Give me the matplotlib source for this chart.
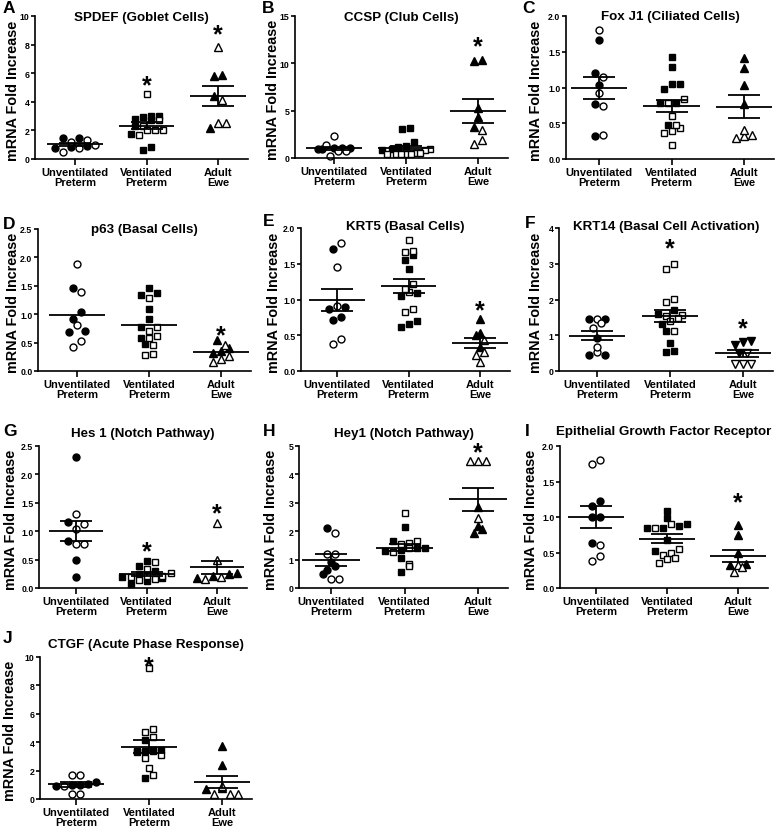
import matplotlib
matplotlib.use("Agg")
import matplotlib.pyplot as plt
import numpy as np
from matplotlib.ticker import FormatStrFormatter

plt.rcParams.update({
    "font.family": ["Liberation Sans", "DejaVu Sans"],
    "font.weight": "bold",
    "axes.labelweight": "bold",
    "axes.linewidth": 1.2,
})

# ── data ────────────────────────────────────────────────────────────────────
GROUPS = ["Unventilated\nPreterm", "Ventilated\nPreterm", "Adult\nEwe"]

SPDEF_UV_FILLED = [1.45, 1.5, 0.9, 0.85, 0.8]
SPDEF_UV_OPEN = [1.3, 1.2, 0.8, 0.5, 0.95]
SPDEF_V_FILLED = [3.0, 3.0, 2.95, 2.8, 2.75, 2.3, 1.75, 0.85, 0.65]
SPDEF_V_OPEN = [4.55, 2.75, 2.3, 2.05, 2.0, 2.05, 1.65]
SPDEF_A_FILLED = [5.8, 5.9, 4.4, 2.2]
SPDEF_A_OPEN = [7.8, 4.15, 2.5, 2.5]

CCSP_UV_FILLED = [1.05, 1.0, 0.9, 1.1, 1.05]
CCSP_UV_OPEN = [2.3, 1.35, 0.75, 0.7, 0.25]
CCSP_V_FILLED = [3.05, 3.15, 1.7, 1.25, 1.2, 0.9, 0.8]
CCSP_V_OPEN = [0.9, 0.8, 0.5, 0.45, 0.4, 0.4, 0.45, 0.5, 0.4]
CCSP_A_FILLED = [10.25, 10.4, 5.3, 4.3, 3.26]
CCSP_A_OPEN = [3.0, 1.93, 1.44]

FOXJ1_UV_FILLED = [1.67, 1.2, 1.04, 0.77, 0.32]
FOXJ1_UV_OPEN = [1.8, 1.15, 0.93, 0.74, 0.33]
FOXJ1_V_FILLED = [1.42, 1.28, 1.05, 0.98, 1.05, 0.78, 0.78, 0.48]
FOXJ1_V_OPEN = [0.78, 0.84, 0.6, 0.39, 0.36, 0.44, 0.47, 0.19]
FOXJ1_A_FILLED = [1.41, 1.27, 1.03, 0.77]
FOXJ1_A_OPEN = [0.34, 0.29, 0.32, 0.4]

P63_UV_FILLED = [1.47, 1.04, 0.92, 0.71, 0.69]
P63_UV_OPEN = [1.88, 1.39, 0.81, 0.53, 0.42]
P63_V_FILLED = [1.47, 1.34, 1.38, 1.1, 0.92, 0.78, 0.58, 0.47]
P63_V_OPEN = [1.28, 0.77, 0.71, 0.62, 0.58, 0.45, 0.29, 0.3]
P63_A_FILLED = [0.55, 0.41, 0.36, 0.31]
P63_A_OPEN = [0.46, 0.27, 0.21, 0.16]

KRT5_UV_FILLED = [1.71, 0.9, 0.87, 0.76, 0.71]
KRT5_UV_OPEN = [1.79, 1.46, 0.91, 0.45, 0.38]
KRT5_V_FILLED = [1.62, 1.55, 1.43, 1.05, 1.09, 0.7, 0.62, 0.66]
KRT5_V_OPEN = [1.83, 1.66, 1.68, 1.22, 1.1, 1.15, 0.87, 0.83]
KRT5_A_FILLED = [0.73, 0.53, 0.5, 0.33]
KRT5_A_OPEN = [0.43, 0.27, 0.23, 0.12]

KRT14_UV_FILLED = [1.45, 1.45, 0.93, 0.46, 0.46]
KRT14_UV_OPEN = [1.46, 1.33, 1.2, 0.52, 0.66]
KRT14_V_FILLED = [1.72, 1.6, 1.32, 1.12, 0.78, 0.57, 0.53]
KRT14_V_OPEN = [2.98, 2.84, 2.02, 1.92, 1.58, 1.55, 1.48, 1.4, 1.12]
KRT14_A_FILLED = [0.8, 0.85, 0.72, 0.5]
KRT14_A_OPEN = [0.5, 0.2, 0.2, 0.2]

HES1_UV_FILLED = [2.31, 1.16, 0.83, 0.49, 0.2]
HES1_UV_OPEN = [1.31, 1.13, 1.04, 0.78, 0.77]
HES1_V_FILLED = [0.47, 0.38, 0.3, 0.25, 0.2, 0.12, 0.07, 0.18]
HES1_V_OPEN = [0.46, 0.34, 0.27, 0.22, 0.2, 0.14, 0.15, 0.22]
HES1_A_FILLED = [0.26, 0.21, 0.17, 0.25]
HES1_A_OPEN = [1.15, 0.5, 0.16, 0.2]

HEY1_UV_FILLED = [2.1, 0.92, 0.78, 0.5, 0.65]
HEY1_UV_OPEN = [1.93, 1.2, 1.2, 0.3, 0.31]
HEY1_V_FILLED = [2.14, 1.65, 1.42, 1.33, 1.3, 1.05, 0.55, 1.42]
HEY1_V_OPEN = [2.63, 1.65, 1.58, 1.55, 1.4, 1.28, 0.85, 0.78]
HEY1_A_FILLED = [2.85, 2.2, 1.95, 2.08]
HEY1_A_OPEN = [4.47, 4.47, 4.47, 2.45]

EGFR_UV_FILLED = [1.23, 1.16, 1.0, 1.0, 0.64]
EGFR_UV_OPEN = [1.75, 1.8, 0.6, 0.45, 0.38]
EGFR_V_FILLED = [1.08, 0.98, 0.87, 0.84, 0.84, 0.9, 0.68, 0.52]
EGFR_V_OPEN = [0.9, 0.84, 0.55, 0.5, 0.42, 0.46, 0.41, 0.35]
EGFR_A_FILLED = [0.89, 0.74, 0.49, 0.34, 0.32]
EGFR_A_OPEN = [0.33, 0.22, 0.29]

CTGF_UV_FILLED = [1.0, 0.95, 1.0, 1.05, 1.2]
CTGF_UV_OPEN = [1.7, 1.7, 0.93, 0.35, 0.35]
CTGF_V_FILLED = [4.15, 3.45, 3.4, 3.35, 3.3, 3.45, 3.4, 1.5]
CTGF_V_OPEN = [9.2, 4.95, 4.75, 4.4, 3.1, 2.9, 2.15, 1.7]
CTGF_A_FILLED = [3.7, 2.4, 0.75, 0.7]
CTGF_A_OPEN = [0.35, 0.35, 0.35, 0.9]

# significance marks: (group index, y of star centre)
SPDEF_STARS = [(1, 5.6), (2, 9.16)]
CCSP_STARS = [(2, 12.4)]
FOXJ1_STARS = []
P63_STARS = [(2, 0.74)]
KRT5_STARS = [(2, 0.93)]
KRT14_STARS = [(1, 3.6), (2, 1.38)]
HES1_STARS = [(1, 0.75), (2, 1.43)]
HEY1_STARS = [(2, 5.0)]
EGFR_STARS = [(2, 1.29)]
CTGF_STARS = [(1, 9.77)]

# ── panel layout (pixels in a 780x829 canvas) ───────────────────────────────
W, H = 780, 829
# letter, title, groups, stars, ymax, ystep, show_sem, adult marker,
# axes (left, top, bottom), category x (first, last), title centre y,
# letter pos, y-label centre x
PANELS = [
    ("A", "SPDEF (Goblet Cells)",
     [(SPDEF_UV_FILLED, SPDEF_UV_OPEN), (SPDEF_V_FILLED, SPDEF_V_OPEN), (SPDEF_A_FILLED, SPDEF_A_OPEN)],
     SPDEF_STARS, 10, 2, True, "^", (35, 17, 160), (75, 218), 18, (3, 1), 13),
    ("B", "CCSP (Club Cells)",
     [(CCSP_UV_FILLED, CCSP_UV_OPEN), (CCSP_V_FILLED, CCSP_V_OPEN), (CCSP_A_FILLED, CCSP_A_OPEN)],
     CCSP_STARS, 15, 5, True, "^", (295, 17, 159), (334, 478), 18, (262, 1), 273),
    ("C", "Fox J1 (Ciliated Cells)",
     [(FOXJ1_UV_FILLED, FOXJ1_UV_OPEN), (FOXJ1_V_FILLED, FOXJ1_V_OPEN), (FOXJ1_A_FILLED, FOXJ1_A_OPEN)],
     FOXJ1_STARS, 2.0, 0.5, True, "^", (566, 17, 160), (599, 744), 17, (522, 1), 536),
    ("D", "p63 (Basal Cells)",
     [(P63_UV_FILLED, P63_UV_OPEN), (P63_V_FILLED, P63_V_OPEN), (P63_A_FILLED, P63_A_OPEN)],
     P63_STARS, 2.5, 0.5, False, "^", (38, 230, 372), (77, 221), 230, (3, 217), 13),
    ("E", "KRT5 (Basal Cells)",
     [(KRT5_UV_FILLED, KRT5_UV_OPEN), (KRT5_V_FILLED, KRT5_V_OPEN), (KRT5_A_FILLED, KRT5_A_OPEN)],
     KRT5_STARS, 2.0, 0.5, True, "^", (301, 229, 372), (337, 480), 227, (263, 214), 274),
    ("F", "KRT14 (Basal Cell Activation)",
     [(KRT14_UV_FILLED, KRT14_UV_OPEN), (KRT14_V_FILLED, KRT14_V_OPEN), (KRT14_A_FILLED, KRT14_A_OPEN)],
     KRT14_STARS, 4, 1, True, "v", (559, 229, 372), (597, 743), 227, (525, 216), 536),
    ("G", "Hes 1 (Notch Pathway)",
     [(HES1_UV_FILLED, HES1_UV_OPEN), (HES1_V_FILLED, HES1_V_OPEN), (HES1_A_FILLED, HES1_A_OPEN)],
     HES1_STARS, 2.5, 0.5, True, "^", (39, 447, 589), (76, 217), 434, (3, 424), 11),
    ("H", "Hey1 (Notch Pathway)",
     [(HEY1_UV_FILLED, HEY1_UV_OPEN), (HEY1_V_FILLED, HEY1_V_OPEN), (HEY1_A_FILLED, HEY1_A_OPEN)],
     HEY1_STARS, 5, 1, True, "^", (299, 447, 589), (331, 478), 434, (263, 424), 271),
    ("I", "Epithelial Growth Factor Receptor",
     [(EGFR_UV_FILLED, EGFR_UV_OPEN), (EGFR_V_FILLED, EGFR_V_OPEN), (EGFR_A_FILLED, EGFR_A_OPEN)],
     EGFR_STARS, 2.0, 0.5, True, "^", (560, 447, 589), (596, 738), 432, (525, 424), 531),
    ("J", "CTGF (Acute Phase Response)",
     [(CTGF_UV_FILLED, CTGF_UV_OPEN), (CTGF_V_FILLED, CTGF_V_OPEN), (CTGF_A_FILLED, CTGF_A_OPEN)],
     CTGF_STARS, 10, 2, True, "^", (40, 658, 800), (76, 222), 645, (3, 631), 10),
]


def row_offsets(y_px, is_filled, row_h, spacing, max_span):
    """Prism-style scatter: group points into rows bottom-up, centre each row."""
    n = len(y_px)
    order = np.argsort(y_px, kind="stable")
    rows, start = [], None
    for i in order:
        if start is None or y_px[i] - start > row_h:
            rows.append([])
            start = y_px[i]
        rows[-1].append(i)
    offs = np.zeros(n)
    for members in rows:
        # mix filled and open symbols inside a row
        fi = [i for i in members if is_filled[i]]
        oi = [i for i in members if not is_filled[i]]
        mixed = []
        for k in range(max(len(fi), len(oi))):
            if k < len(fi):
                mixed.append(fi[k])
            if k < len(oi):
                mixed.append(oi[k])
        m = len(mixed)
        step = spacing if m < 2 else min(spacing, max_span / (m - 1))
        for k, i in enumerate(mixed):
            offs[i] = (k - (m - 1) / 2) * step
    return offs


fig = plt.figure(figsize=(W / 100, H / 100), dpi=100)

for (letter, title, groups, stars, ymax, ystep, show_sem, adult_marker,
     (left, top, bottom), (cat0, cat2), title_y, (lx, ly), ylab_x) in PANELS:
    px_per_unit = (cat2 - cat0) / 2.0
    right = cat2 + 30
    ax = fig.add_axes([left / W, 1 - bottom / H, (right - left) / W, (bottom - top) / H])
    ax.set_xlim(-(cat0 - left) / px_per_unit, 2 + 30 / px_per_unit)
    ax.set_ylim(0, ymax)
    px_per_y = (bottom - top) / ymax

    markers = ["o", "s", adult_marker]
    sizes = [5.0, 4.6, 5.2]
    for gi, (filled, opened) in enumerate(groups):
        vals = np.array(list(filled) + list(opened), dtype=float)
        is_filled = np.array([True] * len(filled) + [False] * len(opened))
        xo = row_offsets(vals * px_per_y, is_filled, 7.0, 8.0, 48.0) / px_per_unit
        for sel, face in ((is_filled, "black"), (~is_filled, "white")):
            ax.plot(gi + xo[sel], vals[sel], linestyle="none", marker=markers[gi],
                    markersize=sizes[gi], markerfacecolor=face, markeredgecolor="black",
                    markeredgewidth=1.0, clip_on=False, zorder=2)

        mean = vals.mean()
        sem = vals.std(ddof=1) / np.sqrt(len(vals))
        ax.hlines(mean, gi - 0.39, gi + 0.39, color="black", linewidth=1.3, zorder=3)
        if show_sem:
            ax.errorbar(gi, mean, yerr=sem, fmt="none", ecolor="black",
                        elinewidth=1.3, capsize=11.5, capthick=1.3, zorder=3)

    for gi, sy in stars:
        ax.annotate("*", (gi, sy), xytext=(0, -9.5), textcoords="offset points",
                    ha="center", va="baseline", fontsize=18, fontweight="bold")

    ax.spines["top"].set_visible(False)
    ax.spines["right"].set_visible(False)
    ax.set_xticks(range(3))
    ax.set_xticklabels(GROUPS, fontsize=8, linespacing=1.1)
    ax.set_yticks(np.arange(0, ymax + ystep / 2, ystep))
    ax.yaxis.set_major_formatter(FormatStrFormatter("%.1f" if ystep < 1 else "%d"))
    ax.tick_params(axis="y", direction="out", length=3, width=1.2, pad=1.0, labelsize=6.3)
    ax.tick_params(axis="x", direction="out", length=4, width=1.2, pad=1.5, labelsize=8)

    fig.text(ylab_x / W, 1 - ((top + bottom) / 2 + 2) / H, "mRNA Fold Increase",
             rotation=90, ha="center", va="center", fontsize=10.4, fontweight="bold")
    ax.text(0.5, (bottom - title_y) / (bottom - top), title, transform=ax.transAxes,
            ha="center", va="center", fontsize=9.6, fontweight="bold")
    fig.text(lx / W, 1 - ly / H, letter, ha="left", va="top", fontsize=12.5,
             fontweight="bold")

fig.savefig("out.png", dpi=100, facecolor="white")
